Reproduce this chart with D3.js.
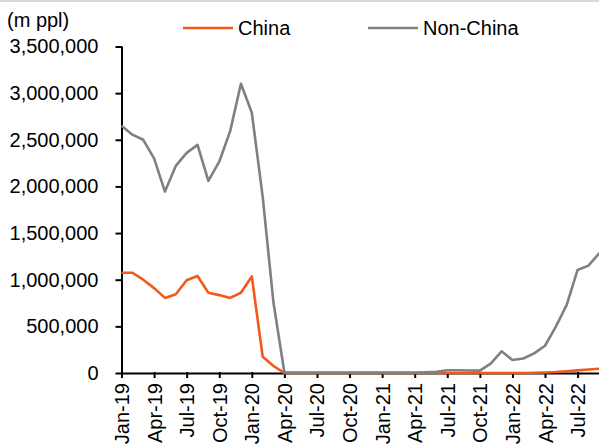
<!DOCTYPE html>
<html>
<head>
<meta charset="utf-8">
<script src="https://cdn.jsdelivr.net/npm/d3@7"></script>
<style>
  html, body { margin: 0; padding: 0; background: #fff; }
  svg { display: block; font-family: "Liberation Sans", Arial, sans-serif; }
</style>
</head>
<body>
<svg id="chart" width="599" height="446"></svg>
<script>
// Monthly passenger traffic, Jan-19 to Sep-22
const months = [
  "Jan-19","Feb-19","Mar-19","Apr-19","May-19","Jun-19","Jul-19","Aug-19","Sep-19","Oct-19","Nov-19","Dec-19",
  "Jan-20","Feb-20","Mar-20","Apr-20","May-20","Jun-20","Jul-20","Aug-20","Sep-20","Oct-20","Nov-20","Dec-20",
  "Jan-21","Feb-21","Mar-21","Apr-21","May-21","Jun-21","Jul-21","Aug-21","Sep-21","Oct-21","Nov-21","Dec-21",
  "Jan-22","Feb-22","Mar-22","Apr-22","May-22","Jun-22","Jul-22","Aug-22","Sep-22"
];

const china = [
  1075000, 1075000, 1000000, 910000, 805000, 845000, 995000, 1040000, 860000, 835000, 805000, 860000,
  1035000, 175000, 75000, 0, 0, 0, 0, 0, 0, 0, 0, 0,
  0, 0, 0, 0, 0, 0, 0, 0, 0, 0, 0, 0,
  0, 0, 2000, 5000, 10000, 18000, 28000, 38000, 45000
];

const nonChina = [
  2650000, 2555000, 2500000, 2300000, 1945000, 2220000, 2360000, 2445000, 2060000, 2265000, 2590000, 3100000,
  2790000, 1890000, 750000, 5000, 5000, 5000, 5000, 5000, 5000, 5000, 5000, 5000,
  5000, 5000, 5000, 5000, 8000, 12000, 30000, 30000, 27000, 25000, 100000, 232000,
  139000, 155000, 211000, 292000, 497000, 730000, 1105000, 1151000, 1284000
];

const yTicks = [0, 500000, 1000000, 1500000, 2000000, 2500000, 3000000, 3500000];
const tickMonths = months.filter((m, i) => i % 3 === 0);

const seriesNames = ["China", "Non-China"];
const seriesColors = ["#f2581b", "#808080"];

const svg = d3.select("#chart");
const fontSize = 20;

// thin rule along the top edge
svg.append("line")
  .attr("x1", 0).attr("x2", 599).attr("y1", 1).attr("y2", 1)
  .attr("stroke", "#d9d9d9").attr("stroke-width", 2);

const x = d3.scalePoint().domain(months).range([121.5, 599.3]);
const y = d3.scaleLinear().domain([0, 3500000]).range([373, 46.5]);

// y axis
const yAxis = svg.append("g")
  .attr("transform", `translate(${x(months[0])},0)`)
  .call(d3.axisLeft(y).tickValues(yTicks).tickFormat(d3.format(",")).tickSizeInner(6).tickSizeOuter(0).tickPadding(17));
yAxis.select(".domain").attr("stroke", "#000").attr("stroke-width", 2);
yAxis.selectAll(".tick line").attr("stroke", "#000").attr("stroke-width", 2).attr("x2", -6).attr("x1", 1);
yAxis.selectAll(".tick text")
  .attr("fill", "#000").style("font-size", fontSize + "px")
  .style("font-family", "'Liberation Sans', Arial, sans-serif");

// x axis
const xAxis = svg.append("g")
  .attr("transform", `translate(0,${y(0)})`)
  .call(d3.axisBottom(x).tickValues(tickMonths).tickSizeInner(5).tickSizeOuter(0).tickPadding(9));
xAxis.select(".domain").attr("stroke", "#000").attr("stroke-width", 2);
xAxis.selectAll(".tick line").attr("stroke", "#000").attr("stroke-width", 2).attr("y1", -1);
xAxis.selectAll(".tick text")
  .attr("fill", "#000").style("font-size", fontSize + "px")
  .style("font-family", "'Liberation Sans', Arial, sans-serif")
  .attr("transform", "rotate(-90)")
  .attr("text-anchor", "end")
  .attr("x", -10).attr("y", 0).attr("dy", "0.35em");

// unit label
svg.append("text")
  .attr("x", 7).attr("y", 27)
  .style("font-size", fontSize + "px")
  .text("(m ppl)");

// series lines
const line = d3.line()
  .x((d, i) => x(months[i]))
  .y(d => y(d));

svg.append("path").datum(china)
  .attr("fill", "none").attr("stroke", seriesColors[0]).attr("stroke-width", 2.6)
  .attr("stroke-linejoin", "round").attr("d", line);
svg.append("path").datum(nonChina)
  .attr("fill", "none").attr("stroke", seriesColors[1]).attr("stroke-width", 2.6)
  .attr("stroke-linejoin", "round").attr("d", line);

// legend
const legendX = [183, 368];
seriesNames.forEach((name, i) => {
  const g = svg.append("g").attr("transform", `translate(${legendX[i]},28)`);
  g.append("line").attr("x1", 0).attr("x2", 50).attr("y1", 0).attr("y2", 0)
    .attr("stroke", seriesColors[i]).attr("stroke-width", 2.6);
  g.append("text").attr("x", 55).attr("y", 0).attr("dy", "0.36em")
    .style("font-size", fontSize + "px").text(name);
});
</script>
</body>
</html>
